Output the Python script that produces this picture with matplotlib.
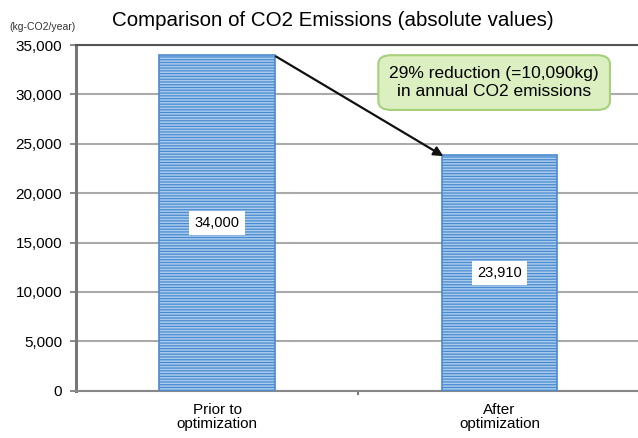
import matplotlib.pyplot as plt
from matplotlib.patches import FancyBboxPatch

# Data
categories = ["Prior to\noptimization", "After\noptimization"]
emissions = [34000, 23910]
value_labels = ["34,000", "23,910"]
y_ticks = [0, 5000, 10000, 15000, 20000, 25000, 30000, 35000]
y_tick_labels = ["0", "5,000", "10,000", "15,000", "20,000", "25,000", "30,000", "35,000"]

plt.rcParams['font.family'] = ['Liberation Sans', 'DejaVu Sans']
plt.rcParams['hatch.color'] = '#5b9bd5'
plt.rcParams['hatch.linewidth'] = 0.9

fig = plt.figure(figsize=(6.38, 4.38), dpi=100)
ax = fig.add_axes([0.119, 0.108, 0.885, 0.789])

x = range(len(categories))
bars = ax.bar(x, emissions, width=0.41, color='#a9cbec', edgecolor='#4a8ad0',
              linewidth=1.2, hatch='------', zorder=3)

ax.set_xlim(-0.5, 1.5)
ax.set_ylim(0, 35000)
ax.set_yticks(y_ticks)
ax.set_yticklabels(y_tick_labels, fontsize=11)
ax.set_xticks(list(x))
ax.set_xticklabels(categories, fontsize=11, linespacing=1.0)
ax.tick_params(axis='x', length=0, pad=9)
ax.tick_params(axis='y', length=4, width=1.2, color='#777777', pad=6)
ax.set_xticks([0.5], minor=True)
ax.tick_params(axis='x', which='minor', length=3, width=1.5, color='#777777')

ax.grid(axis='y', color='#aaaaaa', linewidth=1.5, zorder=0)
ax.spines['right'].set_visible(False)
ax.spines['top'].set_color('#555555')
ax.spines['top'].set_linewidth(1.5)
ax.spines['left'].set_color('#777777')
ax.spines['left'].set_linewidth(2.2)
ax.spines['bottom'].set_color('#888888')
ax.spines['bottom'].set_linewidth(1.5)

# value labels in the middle of the bars
for i, v in enumerate(emissions):
    ax.text(i, v / 2, value_labels[i], ha='center', va='center', fontsize=10.5,
            zorder=5, bbox=dict(boxstyle='square,pad=0.35', fc='white', ec='none'))

# arrow from bar 1 to bar 2
ax.annotate('', xy=(0.81, emissions[1] - 300), xytext=(0.2, emissions[0]),
            arrowprops=dict(arrowstyle='-|>', color='#111111', lw=1.6,
                            mutation_scale=14), zorder=6)

# callout box
box = FancyBboxPatch((0.593, 0.749), 0.363, 0.125, boxstyle='round,pad=0,rounding_size=0.02',
                     transform=fig.transFigure, fc='#dcefc0', ec='#a6d07a', lw=1.5, zorder=7)
fig.patches.append(box)
fig.text(0.7745, 0.812, "29% reduction (=10,090kg)\nin annual CO2 emissions",
         ha='center', va='center', fontsize=12.5, linespacing=1.2, zorder=8)

fig.text(0.176, 0.953, "Comparison of CO2 Emissions (absolute values)", fontsize=14.8,
         ha='left', va='center')
fig.text(0.014, 0.938, "(kg-CO2/year)", fontsize=7.5, ha='left', va='center', color='#333333')

fig.savefig('out.png', dpi=100)
